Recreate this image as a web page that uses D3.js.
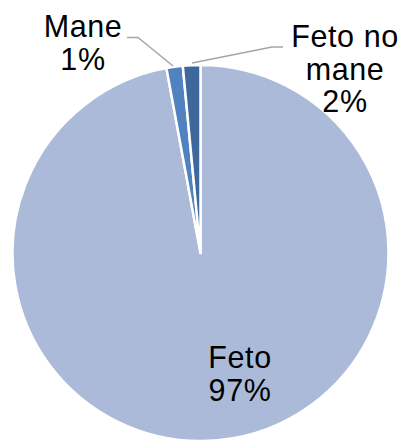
<!DOCTYPE html>
<html>
<head>
<meta charset="utf-8">
<script src="https://cdn.jsdelivr.net/npm/d3@7"></script>
<style>
  html, body { margin: 0; padding: 0; background: #fff; }
  svg text { font-family: "Liberation Sans", Arial, sans-serif; fill: #000; }
</style>
</head>
<body>
<script>
const width = 400;
const height = 441;

// data (clockwise from 12 o'clock)
const categories = ["Feto", "Mane", "Feto no mane"];
const values = [97.1, 1.4, 1.5];
const pctLabels = ["97%", "1%", "2%"];
const colors = ["#abbad8", "#5182c0", "#3e679c"];

// label lines and leader line anchors
const labelLines = [["Feto", "97%"], ["Mane", "1%"], ["Feto no", "mane", "2%"]];
const labelPos = [[240, 368], [83, 37], [345, 47]];
const leaders = [null,
  [[127, 37.5], [138, 37.5], [173, 66]],
  [[192, 63], [272, 47], [283, 47]]];

const cx = 200.5, cy = 253, r = 188;

const svg = d3.select("body").append("svg")
    .attr("width", width)
    .attr("height", height);

const data = categories.map((c, i) => ({ name: c, value: values[i], i: i }));

const pie = d3.pie().sort(null).value(d => d.value);
const arc = d3.arc().innerRadius(0).outerRadius(r);

const g = svg.append("g").attr("transform", `translate(${cx},${cy})`);

g.selectAll("path")
  .data(pie(data))
  .enter().append("path")
    .attr("d", arc)
    .attr("fill", d => colors[d.data.i])
    .attr("stroke", "#fff")
    .attr("stroke-width", 2.5)
    .attr("stroke-linejoin", "round");

const line = d3.line();
svg.append("g")
  .selectAll("path")
  .data(leaders.filter(d => d))
  .enter().append("path")
    .attr("d", line)
    .attr("fill", "none")
    .attr("stroke", "#a6a6a6")
    .attr("stroke-width", 1.5);

const labels = svg.append("g")
  .selectAll("text")
  .data(data)
  .enter().append("text")
    .attr("text-anchor", "middle")
    .attr("font-size", 30.5)
    .attr("letter-spacing", 0.6)
    .attr("x", d => labelPos[d.i][0])
    .attr("y", d => labelPos[d.i][1]);

labels.selectAll("tspan")
  .data(d => labelLines[d.i].map(t => ({ t: t, x: labelPos[d.i][0] })))
  .enter().append("tspan")
    .attr("x", d => d.x)
    .attr("dy", (d, j) => j === 0 ? 0 : 32.5)
    .text(d => d.t);
</script>
</body>
</html>
